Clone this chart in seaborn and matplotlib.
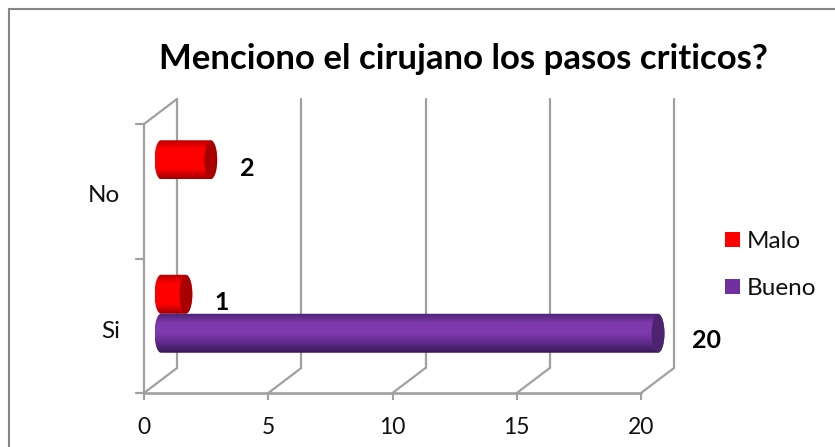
import numpy as np
import pandas as pd
import matplotlib
matplotlib.use("Agg")
import matplotlib.pyplot as plt
import seaborn as sns
from matplotlib.patches import Ellipse, PathPatch, Rectangle
from matplotlib.path import Path
from matplotlib.transforms import ScaledTranslation
from matplotlib.colors import LinearSegmentedColormap, to_hex
from matplotlib.lines import Line2D

# ---- data ----
categories = ["No", "Si", "Si"]
series = ["Malo", "Malo", "Bueno"]
values = [2, 1, 20]
category_order = ["No", "Si"]
series_order = ["Malo", "Bueno"]
x_ticks = [0, 5, 10, 15, 20]
title_text = "Menciono el cirujano los pasos criticos?"

W, H = 835, 447
sns.set_theme(style="white")
plt.rcParams["font.family"] = ["Lato", "DejaVu Sans"]
GRAY = "#a0a0a0"
TXT = "#111111"
FS = 16.5

fig = plt.figure(figsize=(W / 100, H / 100), dpi=100, facecolor="white")
L, R, T, B = 144, 641, 124, 393
ax = fig.add_axes([L / W, 1 - B / H, (R - L) / W, (B - T) / H])

df = pd.DataFrame({"cat": categories, "serie": series, "val": values})
flat = {"Malo": "#ff0000", "Bueno": "#7030a0"}
sns.barplot(data=df, y="cat", x="val", hue="serie", order=category_order,
            hue_order=series_order, palette=flat, width=0.58, ax=ax,
            legend=False, saturation=1)
ax.set_xlim(0, 20)
ax.set_ylim(1.5, -0.5)
ax.set_xlabel("")
ax.set_ylabel("")
ax.patch.set_alpha(0)
for s in ax.spines.values():
    s.set_visible(False)


def shift(dx, dy):
    return ScaledTranslation(dx / 100, dy / 100, fig.dpi_scale_trans)


# ---- 3D walls, derived from tick positions ----
DX, DY = 33, 25
LW = 1.6
inv = fig.transFigure.inverted()


def diagonal(p0):
    a, b = inv.transform(p0), inv.transform(p0 + np.array([DX, DY]))
    fig.add_artist(Line2D([a[0], b[0]], [a[1], b[1]], color=GRAY, lw=LW, zorder=0.5))


xt = ax.get_xaxis_transform()
for t in x_ticks:
    ax.plot([t, t], [0, 1], transform=xt + shift(DX, DY), color=GRAY, lw=LW,
            clip_on=False, zorder=1)
    diagonal(xt.transform((t, 0)))
ax.plot([0, 0], [0, 1], transform=xt, color=GRAY, lw=LW, clip_on=False, zorder=1)
ax.plot([0, 1], [0, 0], transform=ax.transAxes, color=GRAY, lw=LW + 0.3, clip_on=False, zorder=1)
diagonal(ax.transAxes.transform((0, 1)))

# ---- ticks ----
ax.set_xticks(x_ticks)
ax.set_xticklabels([str(t) for t in x_ticks], fontsize=FS, color=TXT)
ax.tick_params(axis="x", length=5, width=1.5, color=GRAY, bottom=True, pad=12)
ax.set_yticks([0, 1])
ax.set_yticklabels(category_order, fontsize=17.5, color=TXT)
ax.tick_params(axis="y", length=0, pad=17)
for lab, dy in zip(ax.get_yticklabels(), (-2, -4)):
    lab.set_transform(lab.get_transform() + shift(0, dy))
for yy in (0, 0.5, 1):
    ax.plot([-0.016, 0], [yy, yy], transform=ax.transAxes, color=GRAY, lw=LW, clip_on=False)

# ---- cylinders from the seaborn bars ----
shades = {
    "#ff0000": (["#b80000", "#ff0000", "#ff0000", "#ff0000", "#a00000"], "#a80000"),
    "#7030a0": (["#4a2270", "#7f3bae", "#7f3bae", "#5f2a8c", "#371850"], "#4d2370"),
}
trans = ax.transData + shift(17, 12)
bars = [p for p in ax.patches if isinstance(p, Rectangle) and p.get_width() > 0]
tops = []
grad = np.linspace(0, 1, 128).reshape(-1, 1)
for bar in bars:
    x1 = bar.get_x() + bar.get_width()
    y0, h = bar.get_y(), bar.get_height()
    yc = y0 + h / 2
    hw = 0.26
    stops, cap = shades[to_hex(bar.get_facecolor())]
    cmap = LinearSegmentedColormap.from_list("c", stops)
    bar.set_visible(False)
    th = np.linspace(np.pi / 2, 3 * np.pi / 2, 30)
    left = np.c_[hw * np.cos(th), h / 2 * np.sin(th) + yc]
    th2 = np.linspace(3 * np.pi / 2, 5 * np.pi / 2, 30)
    right = np.c_[x1 + hw * np.cos(th2), h / 2 * np.sin(th2) + yc]
    verts = np.r_[left, right, left[:1]]
    outline = PathPatch(Path(verts), transform=trans, fc="none", ec="none", clip_on=False)
    ax.add_patch(outline)
    im = ax.imshow(grad, cmap=cmap, aspect="auto", extent=(-hw, x1 + hw, y0 + h, y0),
                   transform=trans, zorder=3, interpolation="bilinear")
    im.set_clip_box(fig.bbox)
    im.set_clip_path(outline)
    ax.add_patch(Ellipse((x1, yc), 2 * hw, h * 0.98, transform=trans,
                         fc=cap, ec="none", zorder=4, clip_on=False))
    tops.append((bar.get_width(), x1, yc))

ax.set_xlim(0, 20)
ax.set_ylim(1.5, -0.5)
ax.set_aspect("auto")

# ---- value labels ----
for v, x1, yc in tops:
    ax.annotate(f"{v:.0f}", xy=(x1, yc), xycoords=trans,
                xytext=(26, -6), textcoords="offset points" if v < 10 else "offset points",
                fontsize=18, fontweight="bold", color="black",
                ha="center", va="center", annotation_clip=False, zorder=6) if v < 10 else \
    ax.annotate(f"{v:.0f}", xy=(x1, yc), xycoords=trans,
                xytext=(35, -5), textcoords="offset points",
                fontsize=18, fontweight="bold", color="black",
                ha="center", va="center", annotation_clip=False, zorder=6)

# ---- title ----
fig.text(463 / W, 1 - 59 / H, title_text, fontsize=25, fontweight="bold", color="black",
         ha="center", va="center")

# ---- legend ----
handles = [Rectangle((0, 0), 1, 1, fc=flat[s], ec="none") for s in series_order]
fig.legend(handles, series_order, loc="center left", bbox_to_anchor=(725 / W, 1 - 265 / H),
           frameon=False, fontsize=17.5, handlelength=0.61, handleheight=0.61, handletextpad=0.28,
           labelspacing=1.08, borderpad=0, borderaxespad=0, labelcolor=TXT)

# ---- outer frame: only top and left edges fall inside the picture ----
fig.add_artist(Line2D([9 / W, 9 / W], [0, 1 - 9 / H], color="#868686", lw=1.5, zorder=0))
fig.add_artist(Line2D([9 / W, 1], [1 - 9 / H, 1 - 9 / H], color="#868686", lw=1.5, zorder=0))

fig.savefig("out.png", dpi=100, facecolor="white")
